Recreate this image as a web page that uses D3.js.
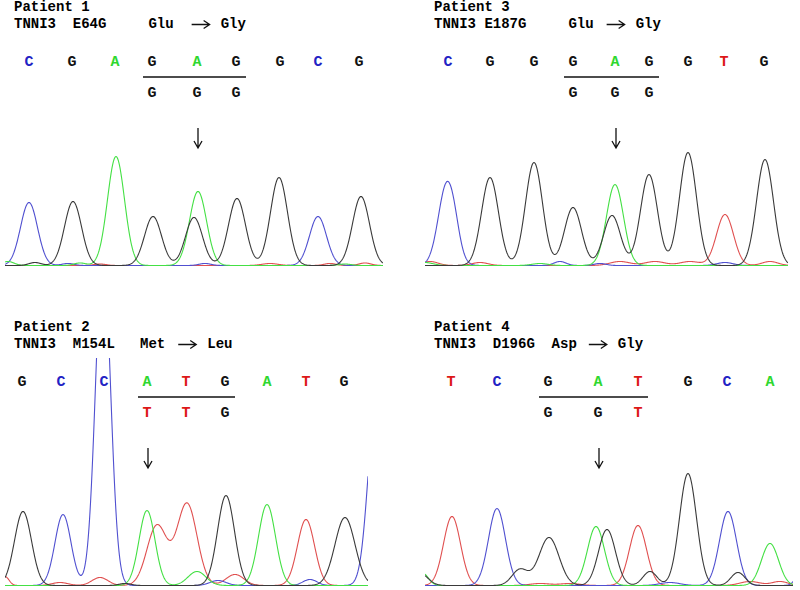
<!DOCTYPE html>
<html>
<head>
<meta charset="utf-8">
<script src="https://cdn.jsdelivr.net/npm/d3@7"></script>
<style>
  body { margin: 0; background: #fff; }
  text { font-family: "Liberation Mono", "Courier New", monospace; font-weight: bold; white-space: pre; }
</style>
</head>
<body>
<div id="chart"></div>
<script>
// ---- values ----
// base calls, scan position of each call, affected codon, mutated base, alt codon
// peaks: [scan, amplitude (RFU), base, width]

// Patient 1
var p1Title = "Patient 1";
var p1Mutation = "TNNI3  E64G     Glu";
var p1NewAA = "Gly";
var p1Bases = ["C", "G", "A", "G", "A", "G", "G", "C", "G"];
var p1Calls = [29, 72, 115, 152, 197, 236, 280, 318, 359];
var p1Codon = [3, 5];
var p1Mut = 4;
var p1Alt = ["G", "G", "G"];
var p1Peaks = [
  [29, 630, "C", 8.5], [73, 640, "G", 8.5], [116, 1090, "A", 8.5], [153, 490, "G", 8.5],
  [198, 740, "A", 8.5], [194, 480, "G", 8.5], [237, 670, "G", 8.5], [279, 880, "G", 8.5],
  [318, 490, "C", 8.5], [361, 690, "G", 8.5],
  [8, 40, "A", 6], [35, 30, "G", 6], [68, 20, "C", 6], [80, 25, "A", 6], [205, 20, "C", 6],
  [270, 20, "T", 8], [100, 15, "T", 6], [330, 20, "T", 6], [365, 25, "T", 6], [345, 15, "A", 6]
];

// Patient 3
var p3Title = "Patient 3";
var p3Mutation = "TNNI3 E187G     Glu";
var p3NewAA = "Gly";
var p3Bases = ["C", "G", "G", "G", "A", "G", "G", "T", "G"];
var p3Calls = [28, 70, 114, 153, 195, 229, 268, 304, 344];
var p3Codon = [3, 5];
var p3Mut = 4;
var p3Alt = ["G", "G", "G"];
var p3Peaks = [
  [27, 820, "C", 8.5], [70, 880, "G", 8.5], [114, 1030, "G", 8.5], [153, 580, "G", 8.5],
  [195, 810, "A", 8.5], [192, 500, "G", 8.5], [229, 910, "G", 8.5], [268, 1130, "G", 8.5],
  [305, 510, "T", 8.5], [345, 1060, "G", 8.5],
  [35, 70, "C", 5], [10, 40, "T", 8], [60, 30, "T", 8], [140, 40, "C", 6], [180, 20, "C", 6],
  [200, 40, "T", 10], [235, 40, "T", 10], [270, 40, "T", 10], [305, 30, "C", 8],
  [350, 40, "T", 8], [5, 30, "A", 8], [120, 20, "A", 8]
];

// Patient 2
var p2Title = "Patient 2";
var p2Mutation = "TNNI3  M154L   Met";
var p2NewAA = "Leu";
var p2Bases = ["G", "C", "C", "A", "T", "G", "A", "T", "G"];
var p2Calls = [22, 61, 104, 147, 186, 225, 267, 306, 344];
var p2Codon = [3, 5];
var p2Mut = 3;
var p2Alt = ["T", "T", "G"];
var p2Peaks = [
  [23, 740, "G", 8.5], [63, 710, "C", 8], [103, 3300, "C", 7.5], [147, 750, "A", 8],
  [157, 600, "T", 10], [187, 820, "T", 10], [226, 900, "G", 8.5], [267, 810, "A", 8.5],
  [306, 660, "T", 8.5], [345, 680, "G", 10], [376, 1800, "C", 8],
  [100, 80, "T", 8], [197, 140, "A", 9], [235, 110, "T", 9], [218, 50, "C", 8],
  [310, 60, "C", 7], [60, 30, "T", 8], [5, 90, "T", 4], [125, 20, "G", 6]
];

// Patient 4
var p4Title = "Patient 4";
var p4Mutation = "TNNI3  D196G  Asp";
var p4NewAA = "Gly";
var p4Bases = ["T", "C", "G", "A", "T", "G", "C", "A"];
var p4Calls = [31, 77, 128, 178, 218, 268, 307, 350];
var p4Codon = [2, 4];
var p4Mut = 3;
var p4Alt = ["G", "G", "T"];
var p4Peaks = [
  [32, 690, "T", 8.5], [77, 770, "C", 8.5], [129, 480, "G", 10], [100, 160, "G", 8],
  [176, 590, "A", 8.5], [187, 560, "G", 8.5], [218, 600, "T", 8.5], [230, 140, "G", 7],
  [268, 1120, "G", 8.5], [308, 740, "C", 8.5], [318, 130, "G", 7], [350, 420, "A", 8.5],
  [0, 120, "G", 8], [2, 130, "A", 6], [385, 300, "C", 6],
  [150, 20, "T", 10], [120, 20, "T", 10], [250, 30, "C", 10], [330, 40, "T", 10], [360, 40, "T", 8]
];

// ---- layout ----
var width = 800, height = 590;
var traceColor = { G: "#3a3a3a", C: "#5050d0", A: "#44e044", T: "#e05050" };
var letterColor = { G: "#111111", C: "#2222c4", A: "#2fd82f", T: "#dd1818" };

var panels = [
  { x0: 0,   y0: 0,   xEnd: 383, gap: 18, title: p1Title, mutation: p1Mutation, newAA: p1NewAA, bases: p1Bases, calls: p1Calls, codon: p1Codon, mut: p1Mut, alt: p1Alt, peaks: p1Peaks },
  { x0: 420, y0: 0,   xEnd: 368, gap: 13, title: p3Title, mutation: p3Mutation, newAA: p3NewAA, bases: p3Bases, calls: p3Calls, codon: p3Codon, mut: p3Mut, alt: p3Alt, peaks: p3Peaks },
  { x0: 0,   y0: 320, xEnd: 368, gap: 13, title: p2Title, mutation: p2Mutation, newAA: p2NewAA, bases: p2Bases, calls: p2Calls, codon: p2Codon, mut: p2Mut, alt: p2Alt, peaks: p2Peaks },
  { x0: 420, y0: 320, xEnd: 373, gap: 12, title: p4Title, mutation: p4Mutation, newAA: p4NewAA, bases: p4Bases, calls: p4Calls, codon: p4Codon, mut: p4Mut, alt: p4Alt, peaks: p4Peaks }
];

var svg = d3.select("#chart")
  .append("svg")
  .attr("width", width)
  .attr("height", height);

panels.forEach(function(p, i) {
  var g = svg.append("g");

  // scan -> px, amplitude -> px
  var xScale = d3.scaleLinear().domain([0, 380]).range([p.x0, p.x0 + 380]);
  var yScale = d3.scaleLinear().domain([0, 1200]).range([p.y0 + 265.5, p.y0 + 145.5]);

  // header
  g.append("text")
    .attr("x", p.x0 + 14)
    .attr("y", p.y0 + 11)
    .attr("font-size", 14)
    .text(p.title);

  var mutText = g.append("text")
    .attr("x", p.x0 + 14)
    .attr("y", p.y0 + 28)
    .attr("font-size", 14)
    .text(p.mutation);

  var a0 = p.x0 + 14 + mutText.node().getComputedTextLength() + p.gap;
  var ay = p.y0 + 24.5;
  g.append("path")
    .attr("d", "M" + a0 + "," + ay + "H" + (a0 + 18) +
      "M" + (a0 + 12) + "," + (ay - 4) + "L" + (a0 + 18) + "," + ay + "L" + (a0 + 12) + "," + (ay + 4))
    .attr("fill", "none")
    .attr("stroke", "#111")
    .attr("stroke-width", 1.3);

  g.append("text")
    .attr("x", a0 + 29)
    .attr("y", p.y0 + 28)
    .attr("font-size", 14)
    .text(p.newAA);

  // base calls
  g.selectAll("text.base")
    .data(p.bases)
    .enter()
    .append("text")
    .attr("class", "base")
    .attr("x", (d, j) => xScale(p.calls[j]))
    .attr("y", p.y0 + 66)
    .attr("text-anchor", "middle")
    .attr("font-size", 15)
    .attr("fill", d => letterColor[d])
    .text(d => d);

  // codon underline + alternative codon
  g.append("line")
    .attr("x1", xScale(p.calls[p.codon[0]]) - 9)
    .attr("x2", xScale(p.calls[p.codon[1]]) + 10)
    .attr("y1", p.y0 + 77)
    .attr("y2", p.y0 + 77)
    .attr("stroke", "#111")
    .attr("stroke-width", 1.3);

  g.selectAll("text.alt")
    .data(p.alt)
    .enter()
    .append("text")
    .attr("class", "alt")
    .attr("x", (d, j) => xScale(p.calls[p.codon[0] + j]))
    .attr("y", p.y0 + 97)
    .attr("text-anchor", "middle")
    .attr("font-size", 15)
    .attr("fill", d => letterColor[d])
    .text(d => d);

  // down arrow at the mutated base
  var mx = xScale(p.calls[p.mut]) + 1;
  g.append("path")
    .attr("d", "M" + mx + "," + (p.y0 + 128) + "V" + (p.y0 + 148) +
      "M" + (mx - 4) + "," + (p.y0 + 141) + "L" + mx + "," + (p.y0 + 148) + "L" + (mx + 4) + "," + (p.y0 + 141))
    .attr("fill", "none")
    .attr("stroke", "#111")
    .attr("stroke-width", 1.3);

  // chromatogram traces
  var clipId = "clip" + i;
  svg.append("clipPath")
    .attr("id", clipId)
    .append("rect")
    .attr("x", xScale(5))
    .attr("y", p.y0 + 38)
    .attr("width", xScale(p.xEnd) - xScale(5))
    .attr("height", 235);

  var scans = d3.range(5, p.xEnd + 0.5, 0.5);
  var line = d3.line()
    .x(d => xScale(d[0]))
    .y(d => yScale(d[1]));

  ["T", "C", "A", "G"].forEach(function(b) {
    var pk = p.peaks.filter(d => d[2] === b);
    var pts = scans.map(function(s) {
      var v = d3.sum(pk, d => d[1] * Math.exp(-((s - d[0]) * (s - d[0])) / (2 * d[3] * d[3])));
      return [s, v];
    });
    g.append("path")
      .datum(pts)
      .attr("d", line)
      .attr("clip-path", "url(#" + clipId + ")")
      .attr("fill", "none")
      .attr("stroke", traceColor[b])
      .attr("stroke-width", 1.1);
  });
});
</script>
</body>
</html>
